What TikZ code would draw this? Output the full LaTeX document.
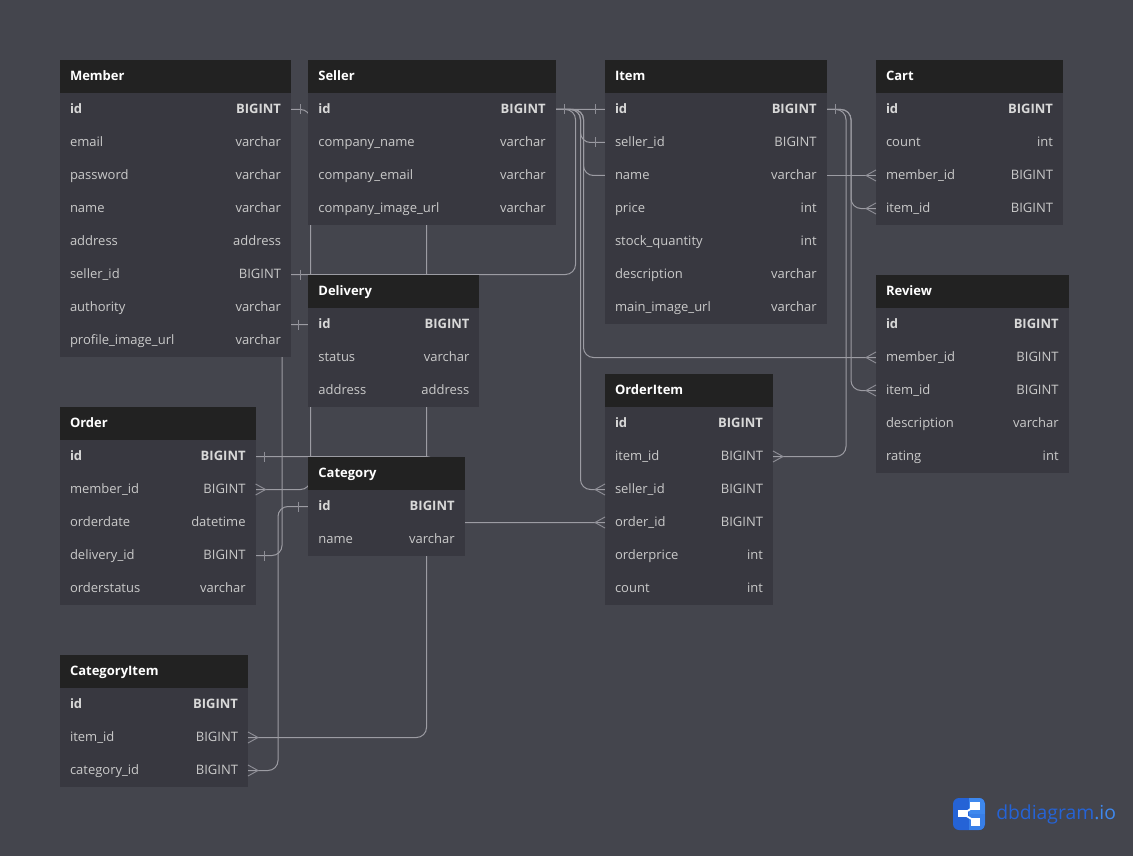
\documentclass[tikz,border=0pt]{standalone}
\usepackage{fontspec}
\setmainfont{Open Sans}
\usetikzlibrary{calc,backgrounds}
\catcode`\_=12
\definecolor{bgc}{HTML}{44454D}
\definecolor{headc}{HTML}{222222}
\definecolor{rowc}{HTML}{383840}
\definecolor{linec}{HTML}{9C9CA3}
\definecolor{tickc}{HTML}{8E8E96}
\definecolor{textc}{HTML}{CACACA}
\definecolor{idc}{HTML}{D8D8D8}
\definecolor{logod}{HTML}{2563D6}
\definecolor{logol}{HTML}{3E88EE}
\newcommand\rowstrut{\rule[-3.3pt]{0pt}{12.5pt}}
\tikzset{
  x=0.75pt,y=-0.75pt,
  headbox/.style={fill=headc,text=white,font=\fontsize{9.75}{11}\selectfont\bfseries,anchor=north west,inner xsep=7.5pt,inner ysep=0pt,outer sep=0pt,minimum height=24.75pt,align=left},
  rowbox/.style={fill=rowc,text=textc,font=\fontsize{9.75}{11}\selectfont,anchor=north west,inner xsep=7.5pt,inner ysep=0pt,outer sep=0pt,minimum height=24.75pt},
  conn/.style={draw=linec,line width=0.75pt,rounded corners=7.5pt},
  tick/.style={draw=tickc,line width=0.7pt}
}
% name, title, left, top, right, rows
\newcommand\dbtable[6]{%
  \pgfmathsetlengthmacro{\tw}{(#5-#3)*0.75pt}%
  \pgfmathsetlengthmacro{\ttw}{(#5-#3-20)*0.75pt}%
  \node[headbox,minimum width=\tw,text width=\ttw] (#1-head) at (#3,#4) {\rowstrut #2};%
  \foreach \cn/\ct [count=\ci from 0] in {#6}{%
    \pgfmathsetmacro{\rowy}{#4+33+33*\ci}%
    \node[rowbox,minimum width=\tw,text width=\ttw] (#1-\cn) at (#3,\rowy)
      {\ifnum\ci=0 \bfseries\color{idc}\fi\rowstrut\cn\hfill\ct};%
  }%
}
\newcommand\onebar[2]{\draw[tick] ($(#1)+(#2,-5)$) -- ($(#1)+(#2,5)$);}
\newcommand\crowfoot[2]{\draw[tick] ($(#1)+(0,-5.5)$) -- ($(#1)+(#2,0)$) -- ($(#1)+(0,5.5)$);}
\begin{document}
\begin{tikzpicture}
\useasboundingbox (0,0) rectangle (1133,856);
\begin{scope}[on background layer]
  \fill[bgc] (0,0) rectangle (1133,856);
\end{scope}

\dbtable{member}{Member}{60}{60}{291}{id/BIGINT,email/varchar,password/varchar,name/varchar,address/address,seller_id/BIGINT,authority/varchar,profile_image_url/varchar}
\dbtable{seller}{Seller}{308.4}{60}{555.6}{id/BIGINT,company_name/varchar,company_email/varchar,company_image_url/varchar}
\dbtable{item}{Item}{605}{60}{826.6}{id/BIGINT,seller_id/BIGINT,name/varchar,price/int,stock_quantity/int,description/varchar,main_image_url/varchar}
\dbtable{cart}{Cart}{876}{60}{1063}{id/BIGINT,count/int,member_id/BIGINT,item_id/BIGINT}
\dbtable{delivery}{Delivery}{308.4}{275}{479.4}{id/BIGINT,status/varchar,address/address}
\dbtable{review}{Review}{876}{275}{1068.6}{id/BIGINT,member_id/BIGINT,item_id/BIGINT,description/varchar,rating/int}
\dbtable{orderitem}{OrderItem}{605}{374}{773}{id/BIGINT,item_id/BIGINT,seller_id/BIGINT,order_id/BIGINT,orderprice/int,count/int}
\dbtable{order}{Order}{60}{407}{255.6}{id/BIGINT,member_id/BIGINT,orderdate/datetime,delivery_id/BIGINT,orderstatus/varchar}
\dbtable{category}{Category}{308.4}{457}{464.6}{id/BIGINT,name/varchar}
\dbtable{categoryitem}{CategoryItem}{60}{655}{248}{id/BIGINT,item_id/BIGINT,category_id/BIGINT}

% routing channels
\coordinate (chA) at (310.5,0);
\coordinate (chB) at (426.5,0);
\coordinate (chC) at (575.5,0);
\coordinate (chD) at (580.5,0);
\coordinate (chE) at (583.5,0);
\coordinate (chF) at (846,0);
\coordinate (chG) at (851,0);
\coordinate (chH) at (282,0);
\coordinate (chI) at (278,0);
\coordinate (chJ) at (436,0);

\begin{scope}[on background layer]
  \draw[conn] (member-id.east) -- (member-id.east -| chA) -- (order-member_id.east -| chA) -- (order-member_id.east);
  \draw[conn] (member-seller_id.east) -- (member-seller_id.east -| chC) -- (seller-id.east -| chC) -- (seller-id.east);
  \draw[conn] (seller-id.east) -- (item-id.west);
  \draw[conn] (item-id.west) -- (item-id.west -| chB) -- (categoryitem-item_id.east -| chB) -- (categoryitem-item_id.east);
  \draw[conn] (seller-id.east) -- (seller-id.east -| chD) -- (orderitem-seller_id.west -| chD) -- (orderitem-seller_id.west);
  \draw[conn] (seller-id.east) -- (seller-id.east -| chD) -- (item-seller_id.west -| chD) -- (item-seller_id.west);
  \draw[conn] (seller-id.east) -- (seller-id.east -| chE) -- (item-name.west -| chE) -- (item-name.west);
  \draw[conn] (seller-id.east) -- (seller-id.east -| chE) -- (review-member_id.west -| chE) -- (review-member_id.west);
  \draw[conn] (item-id.east) -- (item-id.east -| chF) -- (orderitem-item_id.east -| chF) -- (orderitem-item_id.east);
  \draw[conn] (item-id.east) -- (item-id.east -| chG) -- (cart-item_id.west -| chG) -- (cart-item_id.west);
  \draw[conn] (item-id.east) -- (item-id.east -| chG) -- (review-item_id.west -| chG) -- (review-item_id.west);
  \draw[conn] (item-name.east) -- (cart-member_id.west);
  \draw[conn] (delivery-id.west) -- (delivery-id.west -| chH) -- (order-delivery_id.east -| chH) -- (order-delivery_id.east);
  \draw[conn] (category-id.west) -- (category-id.west -| chI) -- (categoryitem-category_id.east -| chI) -- (categoryitem-category_id.east);
  \draw[conn] (order-id.east) -- (order-id.east -| chJ) -- (orderitem-order_id.west -| chJ) -- (orderitem-order_id.west);
\end{scope}

% one-side ticks
\onebar{member-id.east}{9}
\onebar{member-seller_id.east}{9}
\onebar{seller-id.east}{9}
\onebar{item-id.west}{-10}
\onebar{item-seller_id.west}{-10}
\onebar{item-id.east}{9}
\onebar{delivery-id.west}{-10}
\onebar{order-id.east}{9}
\onebar{order-delivery_id.east}{9}
\onebar{category-id.west}{-10}

% many-side feet
\crowfoot{order-member_id.east}{10}
\crowfoot{categoryitem-item_id.east}{10}
\crowfoot{categoryitem-category_id.east}{10}
\crowfoot{orderitem-item_id.east}{10}
\crowfoot{orderitem-seller_id.west}{-10}
\crowfoot{orderitem-order_id.west}{-10}
\crowfoot{cart-member_id.west}{-10}
\crowfoot{cart-item_id.west}{-10}
\crowfoot{review-member_id.west}{-10}
\crowfoot{review-item_id.west}{-10}

% logo
\fill[logod,rounded corners=4.5pt] (953,798) rectangle (985,830);
\begin{scope}
  \clip[rounded corners=4.5pt] (953,798) rectangle (985,830);
  \fill[logol] (969,798) rectangle (985,814);
  \fill[logol!75!logod] (969,814) rectangle (985,830);
\end{scope}
\draw[white,line width=1.3pt] (975,806) -- (963,814) -- (975,821);
\fill[white] (970,802) rectangle (980,810);
\fill[white] (958,810) rectangle (968,817);
\fill[white] (971,818) rectangle (980,826);
\node[anchor=west,inner sep=0pt,font=\fontsize{14.5}{16}\selectfont] (logotext) at (996,814) {\textcolor{logod}{dbdiagram}\textcolor{logol}{.io}};
\end{tikzpicture}
\end{document}
